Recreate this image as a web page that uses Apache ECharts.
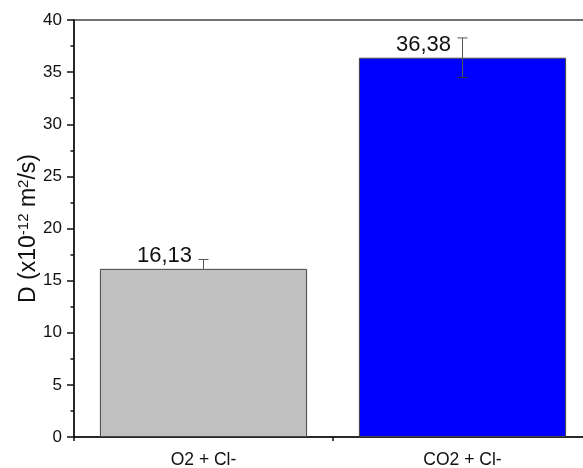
<!DOCTYPE html>
<html>
<head>
<meta charset="utf-8">
<script src="https://cdn.jsdelivr.net/npm/echarts@6/dist/echarts.min.js"></script>
<style>
html,body{margin:0;padding:0;background:#fff;}
#chart{width:583px;height:468px;}
</style>
</head>
<body>
<div id="chart"></div>
<script>
const categories = ['O2 + Cl-', 'CO2 + Cl-'];
const values = [16.13, 36.38];
const errUp = [0.9, 1.9];
const errDown = [0, 1.9];
const barColors = ['#c0c0c0', '#0000ff'];
const yTicks = [0, 5, 10, 15, 20, 25, 30, 35, 40];

const FONT = 'Liberation Sans, Arial, sans-serif';
const chart = echarts.init(document.getElementById('chart'));

const errData = categories.map((c, i) => [i, values[i] + errUp[i], values[i] - errDown[i]]);

chart.setOption({
  animation: false,
  backgroundColor: '#fff',
  grid: {left: 74, right: -9, top: 20, bottom: 31, outerBoundsMode: 'none', containLabel: false,
         show: true, borderColor: '#444', borderWidth: 1.5, backgroundColor: 'transparent'},
  xAxis: [{
    type: 'category',
    data: categories,
    axisLine: {lineStyle: {color: '#111', width: 1.5}},
    axisTick: {alignWithLabel: true, length: 7, lineStyle: {color: '#111', width: 1.5}},
    axisLabel: {fontFamily: FONT, fontSize: 17.5, color: '#111', margin: 14}
  }, {
    type: 'category',
    data: categories,
    position: 'bottom',
    axisLine: {show: false},
    axisTick: {show: true, length: 4, lineStyle: {color: '#111', width: 1.5}},
    axisLabel: {show: false}
  }],
  yAxis: {
    type: 'value',
    min: yTicks[0],
    max: yTicks[yTicks.length - 1],
    interval: 5,
    name: 'D (x10{sup|-12} m{sup|2}/s)',
    nameLocation: 'middle',
    nameGap: 32,
    nameMoveOverlap: false,
    nameTextStyle: {
      fontFamily: FONT, fontSize: 23, color: '#111',
      rich: {sup: {fontFamily: FONT, fontSize: 15, color: '#111', verticalAlign: 'top', padding: [0, 0, 11, 0]}}
    },
    axisLine: {show: true, lineStyle: {color: '#111', width: 1.5}},
    axisTick: {show: true, length: 7, lineStyle: {color: '#111', width: 1.5}},
    minorTick: {show: true, splitNumber: 2, length: 3.5, lineStyle: {color: '#111', width: 1.5}},
    splitLine: {show: false},
    axisLabel: {fontFamily: FONT, fontSize: 17, color: '#111', margin: 12}
  },
  series: [{
    type: 'bar',
    barWidth: '80%',
    data: values.map((v, i) => ({value: v, itemStyle: {color: barColors[i], borderColor: '#444', borderWidth: 1}})),
    label: {
      show: true,
      position: 'top',
      distance: 2,
      offset: [-39, 0],
      fontFamily: FONT,
      fontSize: 22,
      color: '#111',
      formatter: p => p.value.toFixed(2).replace('.', ',')
    },
    z: 2
  }, {
    type: 'custom',
    data: errData,
    z: 3,
    renderItem: function (params, api) {
      const x = api.value(0);
      const hi = api.coord([x, api.value(1)]);
      const lo = api.coord([x, api.value(2)]);
      const cap = 5;
      const children = [
        {type: 'line', shape: {x1: hi[0], y1: hi[1], x2: lo[0], y2: lo[1]}, style: {stroke: '#555', lineWidth: 1}},
        {type: 'line', shape: {x1: hi[0] - cap, y1: hi[1], x2: hi[0] + cap, y2: hi[1]}, style: {stroke: '#555', lineWidth: 1}}
      ];
      if (api.value(2) < values[params.dataIndex]) {
        children.push({type: 'line', shape: {x1: lo[0] - cap, y1: lo[1], x2: lo[0] + cap, y2: lo[1]}, style: {stroke: '#333', lineWidth: 1}});
      }
      return {type: 'group', children: children};
    }
  }]
});
</script>
</body>
</html>
